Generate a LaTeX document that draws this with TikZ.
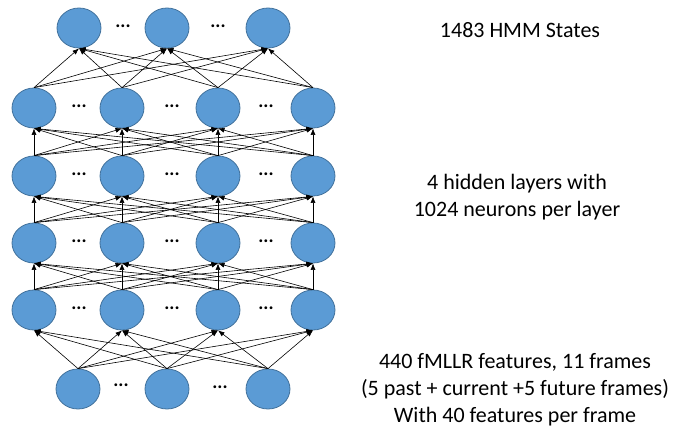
\documentclass[tikz,border=0pt]{standalone}
\usepackage{fontspec}
\setmainfont{Carlito}
\usetikzlibrary{
    positioning, % posicionamento relativo
    arrows.meta, % pontas de seta
    shapes.geometric % elipses
}
\definecolor{unitfill}{HTML}{5B9BD5}
\definecolor{unitline}{HTML}{41719C}
\tikzset{
    >={Latex[length=6.5pt,width=5pt]},
    unit/.style={ellipse, draw=unitline, fill=unitfill, line width=0.8pt,
                 minimum width=44pt, minimum height=40pt, inner sep=0pt},
    link/.style={->, line width=0.6pt},
    dots/.style={font=\bfseries\fontsize{19}{19}\selectfont, inner sep=0pt},
    caption/.style={font=\fontsize{22}{27}\selectfont, align=center}
}

\begin{document}
\begin{tikzpicture}[x=1pt, y=-1pt]
  % frame of the picture (pixels of the reference)
  \useasboundingbox (0,0) rectangle (673,429);

  % ===================== OUTPUT LAYER =====================
  \node[unit] (out1) at (79,28)  {};
  \node[unit] (out2) at (167,28) {};
  \node[unit] (out3) at (268,28) {};
  \node[dots] (od1) at (123,26) {...};
  \node[dots] (od2) at (218,26) {...};

  % ===================== HIDDEN LAYERS =====================
  % layer 1 at the bottom, layer 4 at the top
  \foreach \k/\y in {1/310, 2/243, 3/176, 4/108} {
    \foreach \i/\x in {1/34, 2/122, 3/218, 4/313}
      \node[unit] (h\k\i) at (\x,\y) {};
    \node[dots] (hd\k a) at (79,\y-2)  {...};
    \node[dots] (hd\k b) at (172,\y-2) {...};
    \node[dots] (hd\k c) at (266,\y-2) {...};
  }

  % ===================== INPUT LAYER =====================
  \node[unit] (in1) at (78,389)  {};
  \node[unit] (in2) at (167,389) {};
  \node[unit] (in3) at (268,389) {};
  \node[dots] (id1) at (121,385) {...};
  \node[dots] (id2) at (220,387) {...};

  % ===================== CONNECTIONS =====================
  % input -> first hidden layer
  \foreach \i in {1,2,3}
    \foreach \j in {1,...,4}
      \draw[link] (in\i.north) -- (h1\j.south);

  % hidden -> hidden
  \foreach \k/\n in {1/2, 2/3, 3/4}
    \foreach \i in {1,...,4}
      \foreach \j in {1,...,4}
        \draw[link] (h\k\i.north) -- (h\n\j.south);

  % last hidden layer -> output
  \foreach \i in {1,...,4}
    \foreach \j in {1,2,3}
      \draw[link] (h4\i.north) -- (out\j.south);

  % ===================== CAPTIONS =====================
  \node[caption] (capout) at (520,30) {1483 HMM States};
  \node[caption] (caphid) at (517,197) {4 hidden layers with\\1024 neurons per layer};
  \node[caption] (capin)  at (515,390) {440 fMLLR features, 11 frames\\(5 past + current +5 future frames)\\With 40 features per frame};
\end{tikzpicture}
\end{document}
